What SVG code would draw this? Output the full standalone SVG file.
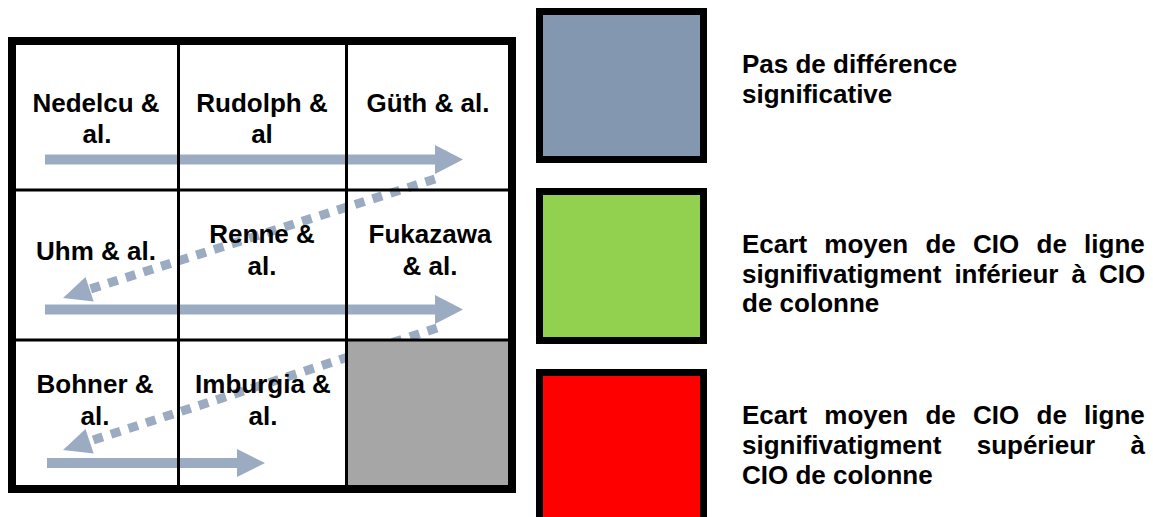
<svg xmlns="http://www.w3.org/2000/svg" width="1153" height="517" viewBox="0 0 1153 517">
<style>
  text { font-family: "Liberation Sans", Arial, sans-serif; font-weight: bold; font-size: 26px; fill: #000; }
  .c { text-anchor: middle; }
  .arr { fill: #9BABC1; }
  .dash { stroke: #9BABC1; stroke-width: 9; fill: none; stroke-dasharray: 10 8.5; }
  .grid { stroke: #000; stroke-width: 3; fill: none; }
  .frame { stroke: #000; stroke-width: 8; fill: none; }
  .lbox { stroke: #000; stroke-width: 7; }
</style>
<rect width="1153" height="517" fill="#fff"/>

<g id="connectors">
  <polygon class="arr" points="45,154.5 435,154.5 435,145 463,159.5 435,174 435,164.5 45,164.5"/>
  <polygon class="arr" points="45,304.5 435,304.5 435,295 463,309.5 435,324 435,314.5 45,314.5"/>
  <polygon class="arr" points="47,458 237,458 237,449 265,463 237,477 237,468 47,468"/>
  <line class="dash" x1="435" y1="179" x2="89.6" y2="289.2"/>
  <polygon class="arr" points="63,298 85.5,276.9 93.7,301.6"/>
  <line class="dash" x1="437" y1="328" x2="89.6" y2="441.2"/>
  <polygon class="arr" points="63,450 85.5,428.9 93.7,453.6"/>
</g>

<g id="cell-empty">
  <rect x="347" y="340" width="165" height="149" fill="#A6A6A6"/>
</g>

<g id="grid">
  <line class="grid" x1="178.5" y1="41" x2="178.5" y2="489"/>
  <line class="grid" x1="346.5" y1="41" x2="346.5" y2="489"/>
  <line class="grid" x1="12" y1="190" x2="512" y2="190"/>
  <line class="grid" x1="12" y1="340" x2="512" y2="340"/>
  <rect class="frame" x="12" y="41" width="500" height="448"/>
</g>

<g id="cell-nedelcu"><text class="c" x="96" y="112">Nedelcu &amp;</text><text class="c" x="97" y="143">al.</text></g>
<g id="cell-rudolph"><text class="c" x="262" y="112">Rudolph &amp;</text><text class="c" x="262" y="143">al</text></g>
<g id="cell-guth"><text class="c" x="428" y="112">Güth &amp; al.</text></g>
<g id="cell-uhm"><text class="c" x="96" y="260">Uhm &amp; al.</text></g>
<g id="cell-renne"><text class="c" x="262" y="243">Renne &amp;</text><text class="c" x="262" y="275">al.</text></g>
<g id="cell-fukazawa"><text class="c" x="430" y="243">Fukazawa</text><text class="c" x="430" y="275">&amp; al.</text></g>
<g id="cell-bohner"><text class="c" x="95" y="393">Bohner &amp;</text><text class="c" x="95" y="425">al.</text></g>
<g id="cell-imburgia"><text class="c" x="263" y="393">Imburgia &amp;</text><text class="c" x="263" y="425">al.</text></g>

<g id="legend-gray">
  <rect class="lbox" x="539.5" y="11.5" width="164" height="148" fill="#8497B0"/>
  <text x="742" y="73">Pas de différence</text>
  <text x="742" y="103">significative</text>
</g>

<g id="legend-green">
  <rect class="lbox" x="539.5" y="191.5" width="164" height="149" fill="#92D050"/>
  <text y="253"><tspan x="742">Ecart</tspan><tspan x="824.3">moyen</tspan><tspan x="925.4">de</tspan><tspan x="973">CIO</tspan><tspan x="1036.5">de</tspan><tspan x="1084.1">ligne</tspan></text>
  <text y="283"><tspan x="742">signifivatigment</tspan><tspan x="954.4">inférieur</tspan><tspan x="1071.4">à</tspan><tspan x="1098.9">CIO</tspan></text>
  <text x="742" y="312">de colonne</text>
</g>

<g id="legend-red">
  <rect class="lbox" x="539.5" y="372.5" width="164" height="160" fill="#FF0000"/>
  <text y="424"><tspan x="742">Ecart</tspan><tspan x="824.3">moyen</tspan><tspan x="925.4">de</tspan><tspan x="973">CIO</tspan><tspan x="1036.5">de</tspan><tspan x="1084.1">ligne</tspan></text>
  <text y="454"><tspan x="742">signifivatigment</tspan><tspan x="976.7">supérieur</tspan><tspan x="1130.5">à</tspan></text>
  <text x="742" y="484">CIO de colonne</text>
</g>
</svg>
